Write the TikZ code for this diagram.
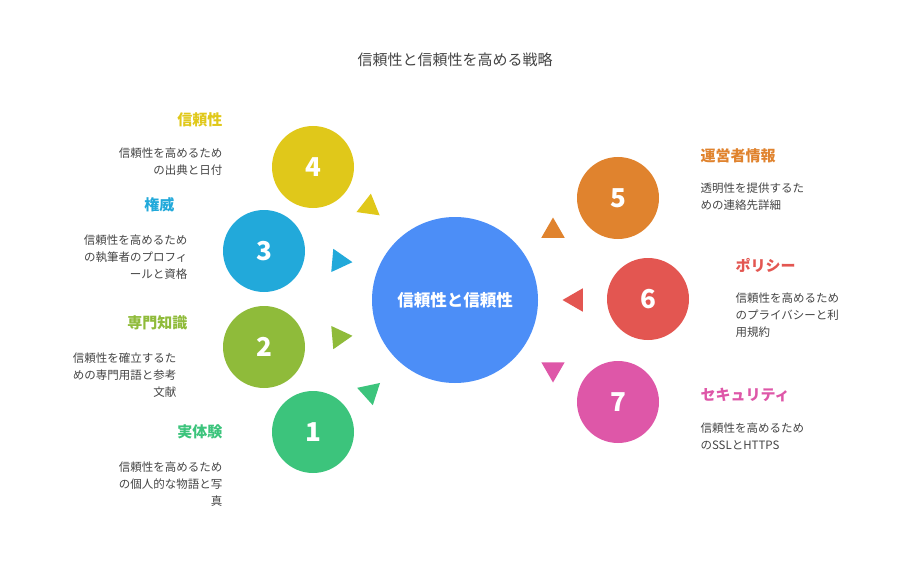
\documentclass[tikz,border=0pt]{standalone}
\usepackage{fontspec}
\setmainfont{Noto Sans CJK JP}
\usetikzlibrary{calc}
\definecolor{cblue}{HTML}{4C8EF7}
\definecolor{cyel}{HTML}{E0C81A}
\definecolor{ccyan}{HTML}{22A9DA}
\definecolor{clime}{HTML}{8FBB3A}
\definecolor{cgreen}{HTML}{3CC47C}
\definecolor{corange}{HTML}{E0832E}
\definecolor{cred}{HTML}{E35651}
\definecolor{cpink}{HTML}{DE57A8}
\definecolor{txt}{HTML}{444444}
\begin{document}
\begin{tikzpicture}[x=1pt,y=1pt,
  numc/.style={circle,minimum size=82pt,inner sep=0,text=white,font=\bfseries\fontsize{26}{26}\selectfont},
  ttl/.style={font=\bfseries\fontsize{15}{15}\selectfont},
  dsc/.style={text=txt,font=\fontsize{11.5}{17}\selectfont},
]
\useasboundingbox (0,0) rectangle (912,-564);
\newcommand{\tri}[3]{\fill[#3] ($(#1)+(#2:13.5)$) -- ($(#1)+(#2+120:13.5)$) -- ($(#1)+(#2+240:13.5)$) -- cycle;}
\node[text=txt,font=\fontsize{15}{15}\selectfont] (title) at (455,-60) {信頼性と信頼性を高める戦略};
\node[circle,fill=cblue,minimum size=166pt,inner sep=0,text=white,font=\bfseries\fontsize{16.5}{16.5}\selectfont] (c) at (455,-300) {信頼性と信頼性};
\node[numc,fill=cyel] (n4) at (313,-167) {4};
\node[numc,fill=ccyan] (n3) at (264,-251) {3};
\node[numc,fill=clime] (n2) at (264,-347) {2};
\node[numc,fill=cgreen] (n1) at (313,-432) {1};
\node[numc,fill=corange] (n5) at (618,-198) {5};
\node[numc,fill=cred] (n6) at (648,-299) {6};
\node[numc,fill=cpink] (n7) at (618,-402) {7};
\coordinate (t4) at (369,-207); \coordinate (t3) at (339,-261);
\coordinate (t2) at (339,-337); \coordinate (t1) at (370,-392);
\coordinate (t5) at (553,-231); \coordinate (t6) at (576,-300);
\coordinate (t7) at (553,-369);
\tri{t4}{82}{cyel} \tri{t3}{-5}{ccyan} \tri{t2}{5}{clime} \tri{t1}{-78}{cgreen}
\tri{t5}{90}{corange} \tri{t6}{180}{cred} \tri{t7}{-90}{cpink}
% left labels
\node[ttl,text=cyel,anchor=east] (l4) at (226,-120) {信頼性};
\node[dsc,anchor=north east,align=right] (d4) at (226,-144) {信頼性を高めるため\\の出典と日付};
\node[ttl,text=ccyan,anchor=east] (l3) at (178,-205) {権威};
\node[dsc,anchor=north east,align=right] (d3) at (191,-231) {信頼性を高めるため\\の執筆者のプロフィ\\ールと資格};
\node[ttl,text=clime,anchor=east] (l2) at (191,-323) {専門知識};
\node[dsc,anchor=north east,align=right] (d2) at (180,-349) {信頼性を確立するた\\めの専門用語と参考\\文献};
\node[ttl,text=cgreen,anchor=east] (l1) at (226,-432) {実体験};
\node[dsc,anchor=north east,align=right] (d1) at (226,-458) {信頼性を高めるため\\の個人的な物語と写\\真};
% right labels
\node[ttl,text=corange,anchor=west] (l5) at (697,-156) {運営者情報};
\node[dsc,anchor=north west,align=left] (d5) at (697,-179) {透明性を提供するた\\めの連絡先詳細};
\node[ttl,text=cred,anchor=west] (l6) at (732,-265) {ポリシー};
\node[dsc,anchor=north west,align=left] (d6) at (732,-289) {信頼性を高めるため\\のプライバシーと利\\用規約};
\node[ttl,text=cpink,anchor=west] (l7) at (697,-395) {セキュリティ};
\node[dsc,anchor=north west,align=left] (d7) at (697,-419) {信頼性を高めるため\\のSSLとHTTPS};
\end{tikzpicture}
\end{document}
